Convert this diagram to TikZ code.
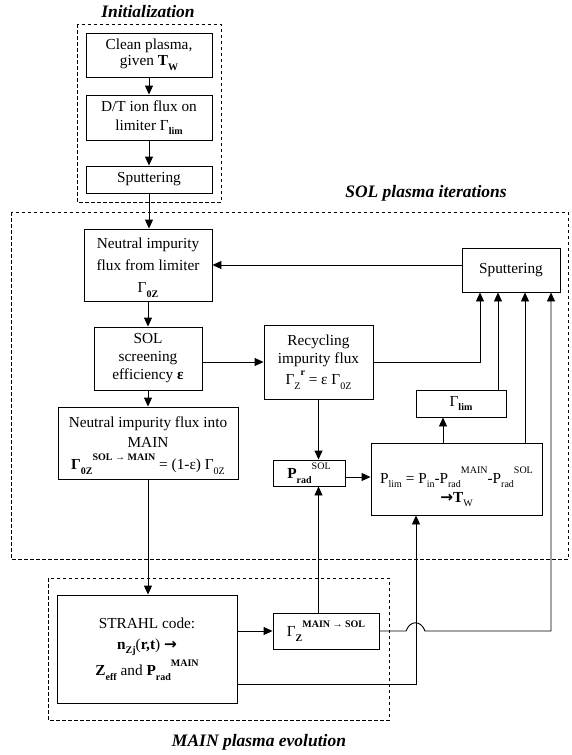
\documentclass[tikz,border=0pt]{standalone}
\usepackage{fontspec}
\setmainfont{Liberation Serif}
\newfontfamily\arrowfont{DejaVu Sans}
\usetikzlibrary{arrows.meta}
\newcommand\dn[1]{\raisebox{-0.3em}{\fontsize{10}{10}\selectfont #1}}
\newcommand\up[1]{\raisebox{0.6em}{\fontsize{10}{10}\selectfont #1}}
\newcommand\bigarr{{\arrowfont\bfseries →}}
\begin{document}
\begin{tikzpicture}[x=1pt,y=-1pt,
  box/.style={draw, line width=0.9pt, align=center, inner sep=0pt, font=\fontsize{15.3}{18}\selectfont},
  arr/.style={line width=0.9pt, -{Triangle[length=9pt,width=8pt]}},
  dashbox/.style={line width=0.8pt, dash pattern=on 3.5pt off 2.5pt},
  title/.style={font=\fontsize{17.5}{20}\selectfont\bfseries\itshape, inner sep=0pt}]
\useasboundingbox (0,0) rectangle (572,755);
\fill[white] (0,0) rectangle (572,755);
% dashed frames
\draw[dashbox] (77,24) rectangle (221,202);
\draw[dashbox] (11,212) rectangle (568,559);
\draw[dashbox] (48,578) rectangle (389,720);
% titles
\node[title] (t1) at (148,12) {Initialization};
\node[title] (t2) at (426,193) {SOL plasma iterations};
\node[title] (t3) at (259,742) {MAIN plasma evolution};
% boxes
\node[box, minimum width=126pt, minimum height=44pt] (clean) at (149,55)
  {Clean plasma,\\[-2pt] given \textbf{T}\dn{\textbf{W}}};
\node[box, minimum width=126pt, minimum height=45pt] (dt) at (149,117.5)
  {D/T ion flux on\\[1pt] limiter Γ\dn{\textbf{lim}}};
\node[box, minimum width=126pt, minimum height=27pt] (sput1) at (149,179.5) {Sputtering};
\node[box, minimum width=128pt, minimum height=72pt] (neut) at (148,265)
  {\rule{0pt}{16pt}Neutral impurity\\[4pt] flux from limiter\\[4pt] Γ\dn{\textbf{0Z}}};
\node[box, minimum width=108pt, minimum height=63pt] (sol) at (148,358.5)
  {SOL\\ screening\\ efficiency \textbf{ε}};
\node[box, minimum width=180pt, minimum height=72pt] (nmain) at (148,443)
  {\rule{0pt}{16pt}Neutral impurity flux into\\[2pt] MAIN\\[4pt] \textbf{Γ\dn{0Z}}\up{\textbf{SOL → MAIN}} = (1-ε) Γ\dn{0Z}};
\node[box, minimum width=109pt, minimum height=74pt] (recyc) at (318.5,362)
  {Recycling\\ impurity flux\\[3pt] Γ\dn{Z}\up{\textbf{r}} = ε Γ\dn{0Z}};
\node[box, minimum width=98pt, minimum height=44pt] (sput2) at (511,270) {Sputtering};
\node[box, minimum width=90pt, minimum height=27pt] (glim) at (461,403.5) {Γ\dn{\textbf{lim}}};
\node[box, minimum width=72pt, minimum height=26pt] (prad) at (309,473)
  {\textbf{P}\dn{\textbf{rad}}\up{SOL}};
\node[box, minimum width=171pt, minimum height=72pt] (plim) at (456.5,479)
  {\rule{0pt}{32pt}P\dn{lim} = P\dn{in}-P\dn{rad}\up{MAIN}-P\dn{rad}\up{SOL}\\[1pt] \bigarr\textbf{T}\dn{W}};
\node[box, minimum width=180pt, minimum height=108pt] (strahl) at (147,649)
  {STRAHL code:\\[3pt] \textbf{n}\dn{\textbf{Zj}}(\textbf{r,t}) \bigarr\\[3pt] \textbf{Z}\dn{\textbf{eff}} and \textbf{P}\dn{\textbf{rad}}\up{\textbf{MAIN}}};
\node[box, minimum width=106pt, minimum height=36pt] (gz) at (326,631)
  {Γ\dn{\textbf{Z}}\up{\textbf{MAIN → SOL}}};
% helper coordinates
\coordinate (s1) at (480,0);
\coordinate (s2) at (498,0);
\coordinate (s3) at (525,0);
\coordinate (s4) at (416,0);
\coordinate (s5) at (443,0);
\coordinate (s6) at (551,0);
\coordinate (h1) at (406,631);
\coordinate (h2) at (425,631);
% connectors
\draw[arr] (clean.south) -- (clean.south |- dt.north);
\draw[arr] (dt.south) -- (dt.south |- sput1.north);
\draw[arr] (sput1.south) -- (sput1.south |- neut.north);
\draw[arr] (neut.south) -- (neut.south |- sol.north);
\draw[arr] (sol.south) -- (sol.south |- nmain.north);
\draw[arr] (nmain.south) -- (nmain.south |- strahl.north);
\draw[arr] (neut.east -| sput2.west) -- (neut.east);
\draw[arr] (recyc.west -| sol.east) -- (recyc.west);
\draw[arr] (recyc.east) -| (s1 |- sput2.south);
\draw[arr] (s2 |- glim.north) -- (s2 |- sput2.south);
\draw[arr] (s3 |- plim.north) -- (s3 |- sput2.south);
\draw[arr] (s5 |- plim.north) -- (s5 |- glim.south);
\draw[arr] (recyc.south) -- (recyc.south |- prad.north);
\draw[arr] ([yshift=-4pt]prad.east) -- ([yshift=-4pt]prad.east -| plim.west);
\draw[arr] (recyc.south |- gz.north) -- (recyc.south |- prad.south);
\draw[arr] (gz.west -| strahl.east) -- (gz.west);
\draw[arr] ([yshift=-35pt]strahl.east) -| (s4 |- plim.south);
\draw[arr] (gz.east) -- (h1) .. controls (410,620) and (421,620) .. (h2) -| (s6 |- sput2.south);
\end{tikzpicture}
\end{document}
